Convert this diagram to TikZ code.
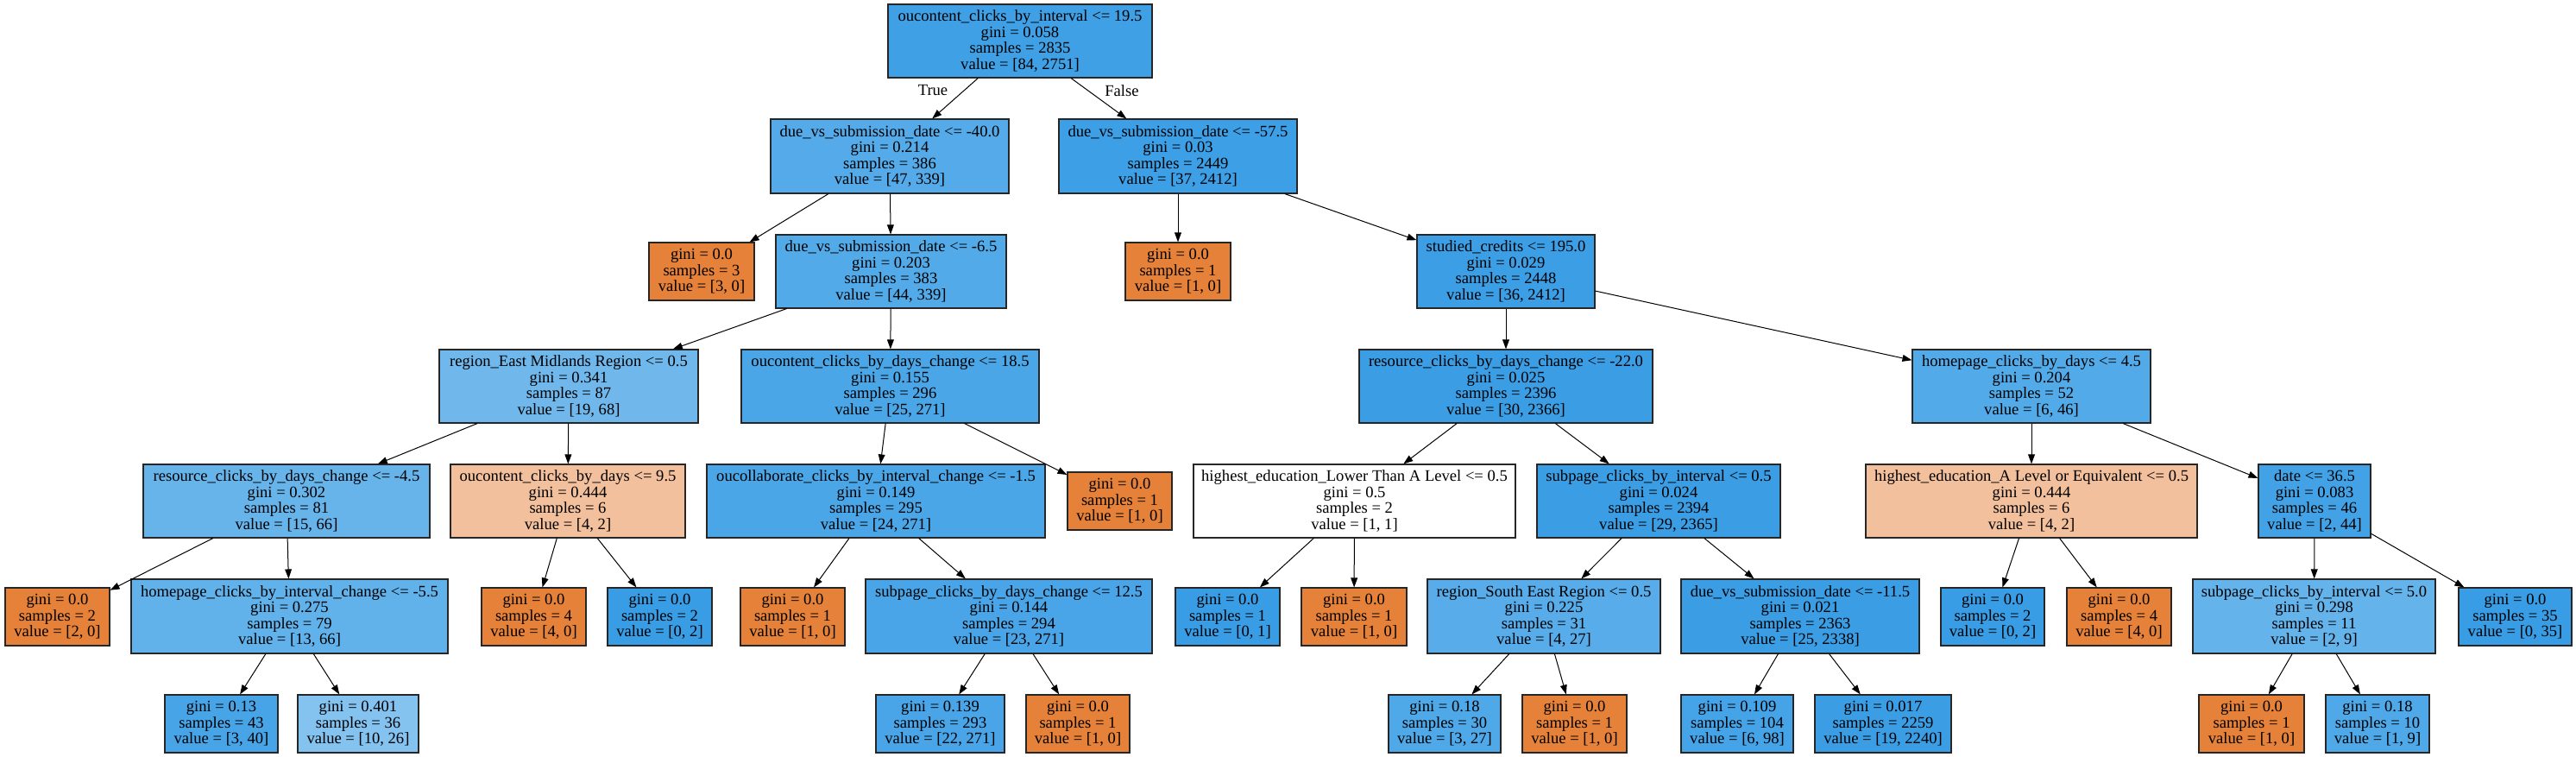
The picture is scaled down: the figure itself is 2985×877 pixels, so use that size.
\documentclass[tikz,border=0pt]{standalone}
\usepackage{fontspec}
\setmainfont{Liberation Serif}
\usetikzlibrary{arrows.meta}
\definecolor{cor}{HTML}{E58139}
\definecolor{cbl}{HTML}{399DE5}
\newcommand\nd[7]{\node[tn, fill=#6, minimum width=#4*0.5pt, minimum height=#5*0.5pt] (#1) at (#2,#3) {#7};}
\begin{document}
\begin{tikzpicture}[x=0.5pt,y=-0.5pt,
  tn/.style={draw=black!85, line width=0.55pt, rectangle, inner sep=0pt, align=center, font=\fontsize{9.3}{9.3}\selectfont},
  lbl/.style={font=\fontsize{9.3}{9.3}\selectfont, inner sep=0pt},
  conn/.style={draw=black, line width=0.5pt, -{Triangle[length=5.5pt,width=3.9pt]}}]
\useasboundingbox (0,0) rectangle (2985,877);
% level 0
\nd{r}{1182}{47.5}{306}{85}{cbl!97!white}{oucontent\_clicks\_by\_interval <= 19.5\\gini = 0.058\\samples = 2835\\value = [84, 2751]}
% level 1
\nd{a}{1031}{181}{276}{86}{cbl!86!white}{due\_vs\_submission\_date <= -40.0\\gini = 0.214\\samples = 386\\value = [47, 339]}
\nd{b}{1365}{181}{276}{86}{cbl!98!white}{due\_vs\_submission\_date <= -57.5\\gini = 0.03\\samples = 2449\\value = [37, 2412]}
% level 2
\nd{aa}{813}{314.5}{122}{67}{cor}{gini = 0.0\\samples = 3\\value = [3, 0]}
\nd{ab}{1032.5}{314.5}{267}{85}{cbl!87!white}{due\_vs\_submission\_date <= -6.5\\gini = 0.203\\samples = 383\\value = [44, 339]}
\nd{ba}{1365}{314.5}{122}{67}{cor}{gini = 0.0\\samples = 1\\value = [1, 0]}
\nd{bb}{1745}{314.5}{206}{85}{cbl!98.5!white}{studied\_credits <= 195.0\\gini = 0.029\\samples = 2448\\value = [36, 2412]}
% level 3
\nd{aba}{659}{447.5}{300}{85}{cbl!72!white}{region\_East Midlands Region <= 0.5\\gini = 0.341\\samples = 87\\value = [19, 68]}
\nd{abb}{1031.5}{447.5}{345}{85}{cbl!91!white}{oucontent\_clicks\_by\_days\_change <= 18.5\\gini = 0.155\\samples = 296\\value = [25, 271]}
\nd{bba}{1745}{447.5}{340}{85}{cbl!99!white}{resource\_clicks\_by\_days\_change <= -22.0\\gini = 0.025\\samples = 2396\\value = [30, 2366]}
\nd{bbb}{2354}{447.5}{276}{85}{cbl!87!white}{homepage\_clicks\_by\_days <= 4.5\\gini = 0.204\\samples = 52\\value = [6, 46]}
% level 4
\nd{c1}{332}{580.5}{332}{85}{cbl!77!white}{resource\_clicks\_by\_days\_change <= -4.5\\gini = 0.302\\samples = 81\\value = [15, 66]}
\nd{c2}{658}{580.5}{272}{85}{cor!50!white}{oucontent\_clicks\_by\_days <= 9.5\\gini = 0.444\\samples = 6\\value = [4, 2]}
\nd{c3}{1015}{580.5}{392}{85}{cbl!91!white}{oucollaborate\_clicks\_by\_interval\_change <= -1.5\\gini = 0.149\\samples = 295\\value = [24, 271]}
\nd{c4}{1297.5}{580.5}{121}{67}{cor}{gini = 0.0\\samples = 1\\value = [1, 0]}
\nd{c5}{1569.5}{580.5}{373}{85}{white}{highest\_education\_Lower Than A Level <= 0.5\\gini = 0.5\\samples = 2\\value = [1, 1]}
\nd{c6}{1922}{580.5}{282}{85}{cbl!99!white}{subpage\_clicks\_by\_interval <= 0.5\\gini = 0.024\\samples = 2394\\value = [29, 2365]}
\nd{c7}{2354}{580.5}{384}{85}{cor!50!white}{highest\_education\_A Level or Equivalent <= 0.5\\gini = 0.444\\samples = 6\\value = [4, 2]}
\nd{c8}{2682}{580.5}{130}{85}{cbl!95!white}{date <= 36.5\\gini = 0.083\\samples = 46\\value = [2, 44]}
% level 5
\nd{d1}{66.5}{714.5}{121}{67}{cor}{gini = 0.0\\samples = 2\\value = [2, 0]}
\nd{d2}{335.5}{714}{367}{86}{cbl!80!white}{homepage\_clicks\_by\_interval\_change <= -5.5\\gini = 0.275\\samples = 79\\value = [13, 66]}
\nd{d3}{618.5}{714.5}{121}{67}{cor}{gini = 0.0\\samples = 4\\value = [4, 0]}
\nd{d4}{764.5}{714.5}{121}{67}{cbl}{gini = 0.0\\samples = 2\\value = [0, 2]}
\nd{d5}{918.5}{714.5}{121}{67}{cor}{gini = 0.0\\samples = 1\\value = [1, 0]}
\nd{d6}{1169}{714}{332}{86}{cbl!92!white}{subpage\_clicks\_by\_days\_change <= 12.5\\gini = 0.144\\samples = 294\\value = [23, 271]}
\nd{d7}{1422.5}{714.5}{121}{67}{cbl}{gini = 0.0\\samples = 1\\value = [0, 1]}
\nd{d8}{1569}{714.5}{122}{67}{cor}{gini = 0.0\\samples = 1\\value = [1, 0]}
\nd{d9}{1789}{714}{270}{86}{cbl!85!white}{region\_South East Region <= 0.5\\gini = 0.225\\samples = 31\\value = [4, 27]}
\nd{d10}{2086}{714}{276}{86}{cbl!99!white}{due\_vs\_submission\_date <= -11.5\\gini = 0.021\\samples = 2363\\value = [25, 2338]}
\nd{d11}{2309}{714.5}{120}{67}{cbl}{gini = 0.0\\samples = 2\\value = [0, 2]}
\nd{d12}{2455.5}{714.5}{121}{67}{cor}{gini = 0.0\\samples = 4\\value = [4, 0]}
\nd{d13}{2681.5}{714}{281}{86}{cbl!78!white}{subpage\_clicks\_by\_interval <= 5.0\\gini = 0.298\\samples = 11\\value = [2, 9]}
\nd{d14}{2914.5}{714.5}{131}{67}{cbl}{gini = 0.0\\samples = 35\\value = [0, 35]}
% level 6
\nd{e1}{256.5}{838.5}{131}{67}{cbl!93!white}{gini = 0.13\\samples = 43\\value = [3, 40]}
\nd{e2}{415}{838.5}{140}{67}{cbl!62!white}{gini = 0.401\\samples = 36\\value = [10, 26]}
\nd{e3}{1089.5}{838.5}{149}{67}{cbl!92!white}{gini = 0.139\\samples = 293\\value = [22, 271]}
\nd{e4}{1249}{838.5}{120}{67}{cor}{gini = 0.0\\samples = 1\\value = [1, 0]}
\nd{e5}{1674}{838.5}{130}{67}{cbl!89!white}{gini = 0.18\\samples = 30\\value = [3, 27]}
\nd{e6}{1824.5}{838.5}{121}{67}{cor}{gini = 0.0\\samples = 1\\value = [1, 0]}
\nd{e7}{2013}{838.5}{130}{67}{cbl!94!white}{gini = 0.109\\samples = 104\\value = [6, 98]}
\nd{e8}{2182}{838.5}{158}{67}{cbl!99!white}{gini = 0.017\\samples = 2259\\value = [19, 2240]}
\nd{e9}{2609}{838.5}{122}{67}{cor}{gini = 0.0\\samples = 1\\value = [1, 0]}
\nd{e10}{2755}{838.5}{120}{67}{cbl!89!white}{gini = 0.18\\samples = 10\\value = [1, 9]}
% edges
\draw[conn] (r) -- (a);
\draw[conn] (r) -- (b);
\node[lbl] (tl) at (1081,105) {True};
\node[lbl] (fl) at (1300,105) {False};
\foreach \p/\c in {a/aa, a/ab, b/ba, b/bb, ab/aba, ab/abb, bb/bba, bb/bbb,
  aba/c1, aba/c2, abb/c3, abb/c4, bba/c5, bba/c6, bbb/c7, bbb/c8,
  c1/d1, c1/d2, c2/d3, c2/d4, c3/d5, c3/d6, c5/d7, c5/d8, c6/d9, c6/d10, c7/d11, c7/d12, c8/d13, c8/d14,
  d2/e1, d2/e2, d6/e3, d6/e4, d9/e5, d9/e6, d10/e7, d10/e8, d13/e9, d13/e10}
  \draw[conn] (\p) -- (\c);
\end{tikzpicture}
\end{document}
